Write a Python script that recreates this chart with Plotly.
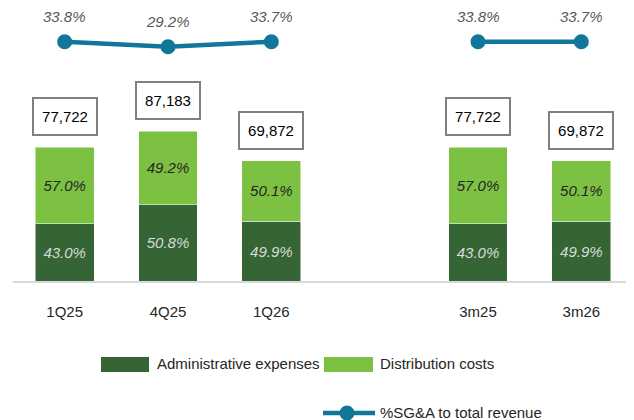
import plotly.graph_objects as go

DARK = "#356534"
LIGHT = "#7DC142"
LINE = "#12759A"
FONT = "Liberation Sans, Arial, sans-serif"

categories = ["1Q25", "4Q25", "1Q26", " ", "3m25", "3m26"]
admin = [33420, 44289, 34866, None, 33420, 34866]
distribution = [44302, 42894, 35006, None, 44302, 35006]
admin_share = ["43.0%", "50.8%", "49.9%", "", "43.0%", "49.9%"]
dist_share = ["57.0%", "49.2%", "50.1%", "", "57.0%", "50.1%"]
totals = [77722, 87183, 69872, None, 77722, 69872]
sga_pct = [33.8, 29.2, 33.7, None, 33.8, 33.7]

fig = go.Figure()
fig.add_trace(
    go.Bar(
        x=categories,
        y=admin,
        name="Administrative expenses",
        marker={"color": DARK, "line": {"color": "rgba(255,255,255,0.5)", "width": 1}},
        text=admin_share,
        textposition="inside",
        insidetextanchor="middle",
        textfont={"family": FONT, "size": 15, "color": "#D9D9D9", "style": "italic"},
        hoverinfo="skip",
    )
)
fig.add_trace(
    go.Bar(
        x=categories,
        y=distribution,
        name="Distribution costs",
        marker={"color": LIGHT, "line": {"color": "rgba(255,255,255,0.5)", "width": 1}},
        text=dist_share,
        textposition="inside",
        insidetextanchor="middle",
        textfont={"family": FONT, "size": 15, "color": "#262626", "style": "italic"},
        hoverinfo="skip",
    )
)
fig.add_trace(
    go.Scatter(
        x=categories,
        y=sga_pct,
        yaxis="y2",
        name="%SG&A to total revenue",
        mode="lines+markers",
        connectgaps=False,
        line={"color": LINE, "width": 4.5},
        marker={"color": LINE, "size": 15},
        hoverinfo="skip",
    )
)

annotations = []
for cat, tot in zip(categories, totals):
    if tot is None:
        continue
    annotations.append(
        dict(
            x=cat, y=tot, yref="y", text=f"{tot:,}", showarrow=False,
            yanchor="bottom", yshift=11, width=60, height=33, borderpad=1,
            bordercolor="#7F7F7F", borderwidth=2, bgcolor="white",
            font={"family": FONT, "size": 15, "color": "#000000"},
        )
    )
for cat, pct in zip(categories, sga_pct):
    if pct is None:
        continue
    annotations.append(
        dict(
            x=cat, y=pct, yref="y2", text=f"{pct:.1f}%", showarrow=False,
            yshift=25,
            font={"family": FONT, "size": 15, "color": "#595959", "style": "italic"},
        )
    )

# legend drawn by hand (wide swatches)
legend_font = {"family": FONT, "size": 15, "color": "#262626"}
annotations += [
    dict(xref="paper", yref="paper", x=0.229, y=-0.304, text="Administrative expenses",
         showarrow=False, xanchor="left", yanchor="middle", font=legend_font),
    dict(xref="paper", yref="paper", x=0.5887, y=-0.304, text="Distribution costs",
         showarrow=False, xanchor="left", yanchor="middle", font=legend_font),
    dict(xref="paper", yref="paper", x=0.5887, y=-0.4835, text="%SG&A to total revenue",
         showarrow=False, xanchor="left", yanchor="middle", font=legend_font),
]
shapes = [
    dict(type="rect", xref="paper", yref="paper", x0=0.1419, x1=0.2194, y0=-0.3333, y1=-0.2784,
         fillcolor=DARK, line={"width": 0}),
    dict(type="rect", xref="paper", yref="paper", x0=0.5016, x1=0.5806, y0=-0.3333, y1=-0.2784,
         fillcolor=LIGHT, line={"width": 0}),
    dict(type="line", xref="paper", yref="paper", x0=0.5, x1=0.5839, y0=-0.4835, y1=-0.4835,
         line={"color": LINE, "width": 4.5}),
    dict(type="circle", xref="paper", yref="paper", x0=0.5266, x1=0.5508, y0=-0.511, y1=-0.456,
         fillcolor=LINE, line={"width": 0}),
]

fig.update_layout(
    width=626,
    height=412,
    barmode="stack",
    bargap=0.43,
    showlegend=False,
    plot_bgcolor="white",
    paper_bgcolor="white",
    margin={"l": 5, "r": 1, "t": 0, "b": 139},
    font={"family": FONT, "size": 15, "color": "#262626"},
    xaxis={
        "type": "category",
        "showline": True,
        "linecolor": "#D9D9D9",
        "linewidth": 1.5,
        "showgrid": False,
        "ticks": "",
        "ticklabelstandoff": 16,
        "tickfont": {"family": FONT, "size": 15, "color": "#262626"},
        "fixedrange": True,
    },
    yaxis={"range": [0, 158700], "visible": False, "showgrid": False, "fixedrange": True},
    yaxis2={"range": [-186.4, 64.8], "overlaying": "y", "visible": False, "showgrid": False},
    annotations=annotations,
    shapes=shapes,
)

fig.write_html("out.html")
